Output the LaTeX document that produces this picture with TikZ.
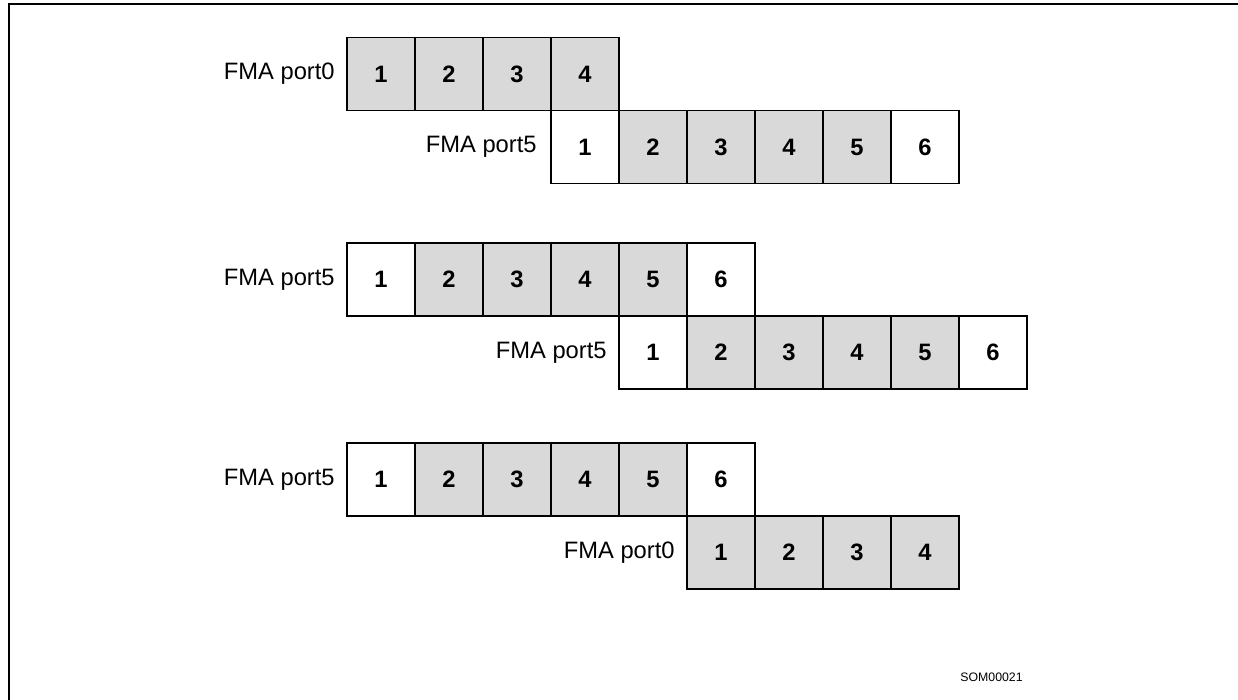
\documentclass[tikz,border=0pt]{standalone}
\usepackage{fontspec}
\setmainfont{Liberation Sans}
\definecolor{cellgray}{HTML}{D9D9D9}
\usepackage{tikz}
\usetikzlibrary{positioning}
\tikzset{
	whitecell/.style={
			rectangle,
			draw=black,
			line width=1.1pt,
			fill=white,
			minimum width=1.36cm,
			minimum height=1.46cm,
			inner sep=0pt,
			outer sep=0pt,
			font=\fontsize{13.5}{16}\selectfont\bfseries
		},
	graycell/.style={
			whitecell,
			fill=cellgray
		}
}
\tikzset{
	portlabel/.style={font=\fontsize{13.5}{16}\selectfont, inner sep=0pt}
}
\tikzset{
	figtag/.style={font=\fontsize{7}{8}\selectfont, inner sep=0pt}
}

\begin{document}
\begin{tikzpicture}[x=0.02cm, y=-0.02cm]
        \useasboundingbox (0,0) rectangle (1238,700);
        \draw[line width=1.6pt] (9,700) -- (9,4) -- (1238,4);

        % port0 then port5
        \node[graycell] at (381,74) (a1) {1};
        \node[graycell, right = 0pt of a1] (a2) {2};
        \node[graycell, right = 0pt of a2] (a3) {3};
        \node[graycell, right = 0pt of a3] (a4) {4};
        \node[portlabel, left = 0.24cm of a1] (la) {FMA port0};

        \node[whitecell, below = 0pt of a4] (b1) {1};
        \node[graycell, right = 0pt of b1] (b2) {2};
        \node[graycell, right = 0pt of b2] (b3) {3};
        \node[graycell, right = 0pt of b3] (b4) {4};
        \node[graycell, right = 0pt of b4] (b5) {5};
        \node[whitecell, right = 0pt of b5] (b6) {6};
        \node[portlabel, left = 0.28cm of b1] (lb) {FMA port5};

        % port5 then port5
        \node[whitecell] at (381,279.5) (c1) {1};
        \node[graycell, right = 0pt of c1] (c2) {2};
        \node[graycell, right = 0pt of c2] (c3) {3};
        \node[graycell, right = 0pt of c3] (c4) {4};
        \node[graycell, right = 0pt of c4] (c5) {5};
        \node[whitecell, right = 0pt of c5] (c6) {6};
        \node[portlabel, left = 0.24cm of c1] (lc) {FMA port5};

        \node[whitecell, below = 0pt of c5] (d1) {1};
        \node[graycell, right = 0pt of d1] (d2) {2};
        \node[graycell, right = 0pt of d2] (d3) {3};
        \node[graycell, right = 0pt of d3] (d4) {4};
        \node[graycell, right = 0pt of d4] (d5) {5};
        \node[whitecell, right = 0pt of d5] (d6) {6};
        \node[portlabel, left = 0.24cm of d1] (ld) {FMA port5};

        % port5 then port0
        \node[whitecell] at (381,479.5) (e1) {1};
        \node[graycell, right = 0pt of e1] (e2) {2};
        \node[graycell, right = 0pt of e2] (e3) {3};
        \node[graycell, right = 0pt of e3] (e4) {4};
        \node[graycell, right = 0pt of e4] (e5) {5};
        \node[whitecell, right = 0pt of e5] (e6) {6};
        \node[portlabel, left = 0.24cm of e1] (le) {FMA port5};

        \node[graycell, below = 0pt of e6] (f1) {1};
        \node[graycell, right = 0pt of f1] (f2) {2};
        \node[graycell, right = 0pt of f2] (f3) {3};
        \node[graycell, right = 0pt of f3] (f4) {4};
        \node[portlabel, left = 0.24cm of f1] (lf) {FMA port0};

        \node[figtag, anchor=east] at (1023,677) (tag) {SOM00021};
      \end{tikzpicture}
\end{document}
